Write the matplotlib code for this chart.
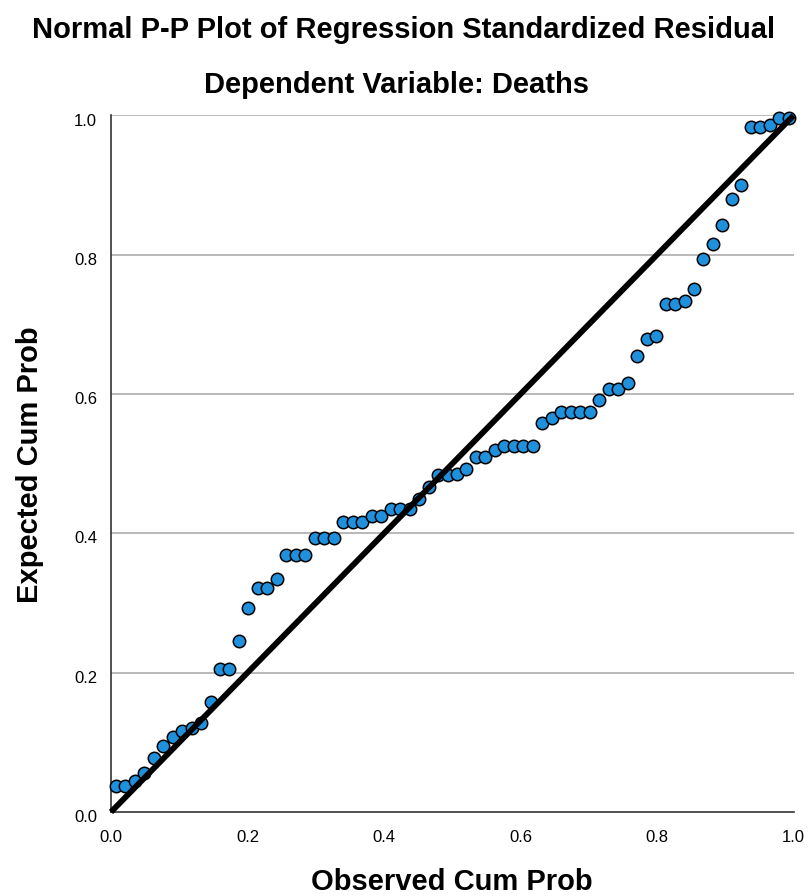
import matplotlib
matplotlib.use("Agg")
import matplotlib.pyplot as plt
from matplotlib.transforms import ScaledTranslation

observed = [0.0069, 0.0208, 0.0347, 0.0486, 0.0625, 0.0764, 0.0903, 0.1042, 0.1181, 0.1319,
            0.1458, 0.1597, 0.1736, 0.1875, 0.2014, 0.2153, 0.2292, 0.2431, 0.2569, 0.2708,
            0.2847, 0.2986, 0.3125, 0.3264, 0.3403, 0.3542, 0.3681, 0.3819, 0.3958, 0.4097,
            0.4236, 0.4375, 0.4514, 0.4653, 0.4792, 0.4931, 0.5069, 0.5208, 0.5347, 0.5486,
            0.5625, 0.5764, 0.5903, 0.6042, 0.6181, 0.6319, 0.6458, 0.6597, 0.6736, 0.6875,
            0.7014, 0.7153, 0.7292, 0.7431, 0.7569, 0.7708, 0.7847, 0.7986, 0.8125, 0.8264,
            0.8403, 0.8542, 0.8681, 0.8819, 0.8958, 0.9097, 0.9236, 0.9375, 0.9514, 0.9653,
            0.9792, 0.9931]
expected = [0.038, 0.038, 0.0445, 0.056, 0.078, 0.095, 0.108, 0.116, 0.120, 0.128,
            0.158, 0.206, 0.206, 0.246, 0.293, 0.322, 0.322, 0.335, 0.369, 0.369,
            0.369, 0.394, 0.394, 0.394, 0.417, 0.417, 0.417, 0.425, 0.425, 0.435,
            0.435, 0.435, 0.450, 0.467, 0.484, 0.484, 0.486, 0.492, 0.509, 0.509,
            0.520, 0.525, 0.525, 0.525, 0.525, 0.558, 0.566, 0.575, 0.575, 0.575,
            0.575, 0.591, 0.607, 0.607, 0.616, 0.655, 0.679, 0.684, 0.729, 0.729,
            0.734, 0.751, 0.794, 0.816, 0.843, 0.880, 0.900, 0.983, 0.984, 0.986,
            0.997, 0.997]
ref_line = [0.0, 1.0]
ticks = [0.0, 0.2, 0.4, 0.6, 0.8, 1.0]
tick_labels = ["0.0", "0.2", "0.4", "0.6", "0.8", "1.0"]

plt.rcParams['font.family'] = ['Liberation Sans', 'DejaVu Sans']

W, H = 809, 896
fig = plt.figure(figsize=(W / 100, H / 100), dpi=100)
ax = fig.add_axes([111 / W, 1 - 812 / H, (793.5 - 111) / W, (812 - 115.5) / H])

ax.set_xlim(0, 1)
ax.set_ylim(0, 1)
for t in ticks[1:]:
    ax.axhline(t, color='#b3b3b3', lw=1.3, zorder=1)

ax.scatter(observed, expected, s=80, color='#1E90DC', edgecolors='black',
           linewidths=1.1, zorder=3, clip_on=False)
ax.plot(ref_line, ref_line, color='black', lw=4.2, zorder=4,
        solid_capstyle='butt', clip_on=False)

for side in ['top', 'right']:
    ax.spines[side].set_visible(False)
for side in ['left', 'bottom']:
    ax.spines[side].set_color('#333333')
    ax.spines[side].set_linewidth(1.2)

ax.set_xticks(ticks)
ax.set_xticklabels(tick_labels)
ax.set_yticks(ticks)
ax.set_yticklabels(tick_labels)
ax.tick_params(axis='both', length=0, labelsize=12, colors='black')
ax.tick_params(axis='x', pad=13)
ax.tick_params(axis='y', pad=10)
offset = ScaledTranslation(0, -4 / 100, fig.dpi_scale_trans)
for lab in ax.get_yticklabels():
    lab.set_transform(lab.get_transform() + offset)

fig.text(404 / W, 1 - 30 / H, "Normal P-P Plot of Regression Standardized Residual",
         ha='center', va='center', fontsize=21, fontweight='bold')
fig.text(397 / W, 1 - 85 / H, "Dependent Variable: Deaths",
         ha='center', va='center', fontsize=21, fontweight='bold')
fig.text(452 / W, 1 - 882 / H, "Observed Cum Prob",
         ha='center', va='center', fontsize=21, fontweight='bold')
fig.text(30 / W, 1 - 465 / H, "Expected Cum Prob", rotation=90,
         ha='center', va='center', fontsize=21, fontweight='bold')

fig.savefig("out.png", dpi=100)
